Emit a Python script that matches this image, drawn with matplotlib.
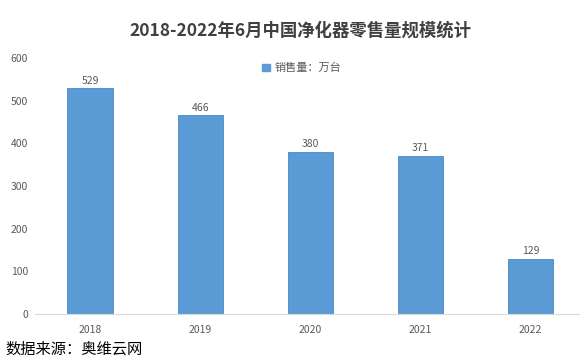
import matplotlib
matplotlib.use("Agg")
import matplotlib.pyplot as plt
from matplotlib.patches import Patch

plt.rcParams["font.family"] = ["Noto Sans CJK SC", "DejaVu Sans"]

years = ["2018", "2019", "2020", "2021", "2022"]
sales = [529, 466, 380, 371, 129]
yticks = [0, 100, 200, 300, 400, 500, 600]

bar_color = "#5b9bd5"
text_gray = "#595959"


def main():
    fig = plt.figure(figsize=(5.8, 3.62), dpi=100)
    ax = fig.add_axes([35 / 580, 48 / 362, 545 / 580, 256 / 362])

    x = list(range(len(years)))
    bars = ax.bar(x, sales, width=0.41, color=bar_color, edgecolor="#4a89c4", linewidth=0.6)
    for b, v in zip(bars, sales):
        ax.text(b.get_x() + b.get_width() / 2, v + 6, str(v), ha="center", va="bottom",
                fontsize=7.5, color=text_gray)

    ax.set_xlim(-0.5, 4.45)
    ax.set_ylim(0, 600)
    ax.set_xticks(x)
    ax.set_xticklabels(years, fontsize=7.5, color=text_gray)
    ax.set_yticks(yticks)
    ax.set_yticklabels([str(t) for t in yticks], fontsize=7.5, color=text_gray)
    ax.tick_params(axis="x", length=0, pad=8)
    ax.tick_params(axis="y", length=0, pad=5)
    for side in ["top", "right", "left"]:
        ax.spines[side].set_visible(False)
    ax.spines["bottom"].set_color("#d9d9d9")
    ax.spines["bottom"].set_linewidth(0.8)

    fig.text(0.518, 0.915, "2018-2022年6月中国净化器零售量规模统计", ha="center", va="center",
             fontsize=12.5, fontweight="bold", color="#404040")

    handle = Patch(facecolor=bar_color, edgecolor=bar_color)
    fig.legend([handle], ["销售量：万台"], loc="center", bbox_to_anchor=(0.52, 0.812),
               frameon=False, fontsize=8, labelcolor=text_gray, handlelength=0.7,
               handleheight=0.7, handletextpad=0.4)

    fig.text(0.01, 0.035, "数据来源：奥维云网", ha="left", va="center", fontsize=11, color="black")

    fig.savefig("out.png", dpi=100, facecolor="white")


if __name__ == '__main__':
    main()
